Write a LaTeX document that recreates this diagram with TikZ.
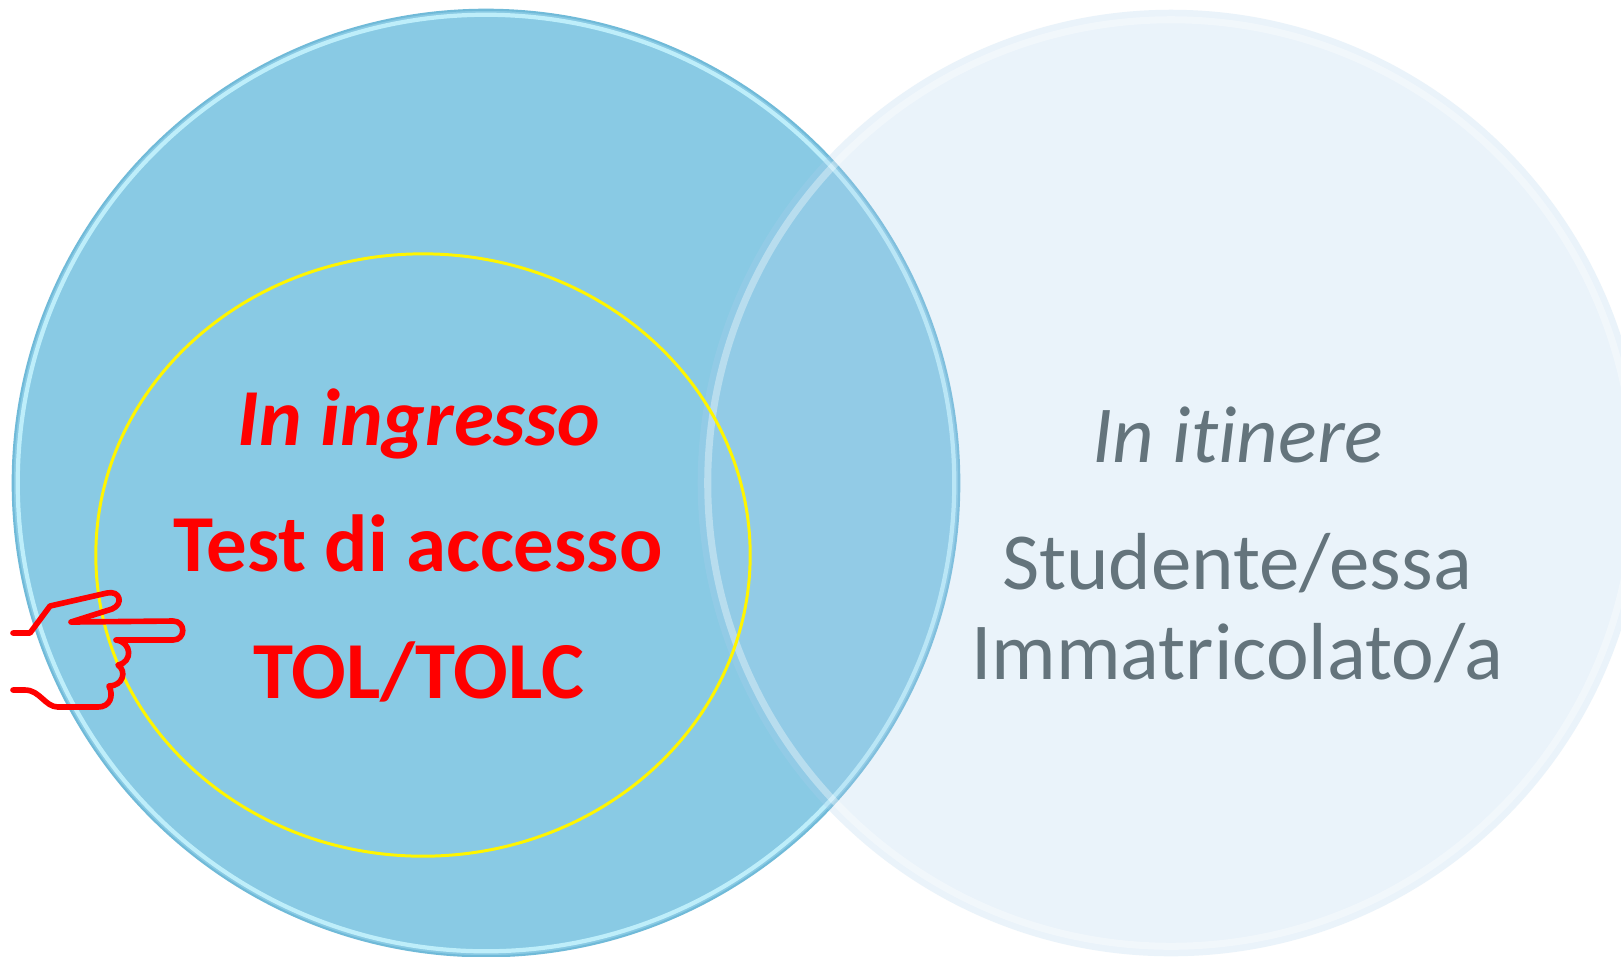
\documentclass[tikz,border=0pt]{standalone}
\usepackage{fontspec}
\setmainfont{Carlito}[Ligatures=NoCommon]
\usepackage{xcolor}
\usepackage{tikz}
\usetikzlibrary{shapes.geometric}
\definecolor{azzurro}{RGB}{137,202,228}
\definecolor{bordo}{RGB}{112,186,216}
\definecolor{lucido}{RGB}{196,242,253}
\definecolor{nebbia}{RGB}{175,209,236}
\definecolor{grigio}{RGB}{100,116,124}
\definecolor{giallo}{RGB}{255,245,0}
\tikzstyle{bubble} = [circle, minimum size=9.46cm, inner sep=0pt, outer sep=0pt]
\tikzstyle{ring} = [line width=1.2pt]
\tikzstyle{hot} = [text=red, anchor=base, font=\fontsize{23}{28}\selectfont\bfseries]
\tikzstyle{calm} = [text=grigio, anchor=base, font=\fontsize{23}{28}\selectfont]
\tikzstyle{hand} = [draw=red, line width=1.6pt, line cap=round, line join=round]

\begin{document}
\begin{tikzpicture}[x=0.01cm, y=-0.01cm]
		\useasboundingbox (0,0) rectangle (1621,956);
		\clip (0,0) rectangle (1621,956);
		\fill [white] (0,0) rectangle (1621,956);
		\node (Ingresso)[bubble, fill=azzurro, draw=bordo, line width=0.6pt] at (486,483) {};
		\draw [ring, lucido, opacity=0.9] (Ingresso.center) circle (4.68cm);
		\node (Itinere)[bubble, fill=nebbia, fill opacity=0.26] at (1171,483) {};
		\draw [ring, white, line width=2pt, opacity=0.35] (Itinere.center) circle (4.63cm);
		\node (Test)[ellipse, minimum width=6.54cm, minimum height=6.02cm, draw=giallo, line width=0.85pt] at (423,555) {};
		\node (In ingresso)[hot] at (419,445) {\itshape In ingresso};
		\node (Test di accesso)[hot] at (418,571) {Test di accesso};
		\node (TOL)[hot] at (419,698) {TOL/TOLC};
		\node (In itinere)[calm] at (1238,462) {\itshape In it\kern0pt inere};
		\node (Studente)[calm] at (1237,589) {Studente/essa};
		\node (Immatricolato)[calm] at (1237,679) {Immatricolato/a};
		% mano che indica
		\draw [hand] (13,633) -- (30,633) -- (50,606) -- (107,593)
			.. controls (120,590) and (124,604) .. (112,609) -- (71,622) -- (173,621)
			.. controls (186,621) and (186,640) .. (173,640) -- (116,640)
			.. controls (132,642) and (133,662) .. (118,665)
			.. controls (127,671) and (123,686) .. (109,686)
			.. controls (114,696) and (110,707) .. (98,707) -- (58,707)
			.. controls (45,707) and (40,690) .. (25,690) -- (13,690);
	\end{tikzpicture}
\end{document}
